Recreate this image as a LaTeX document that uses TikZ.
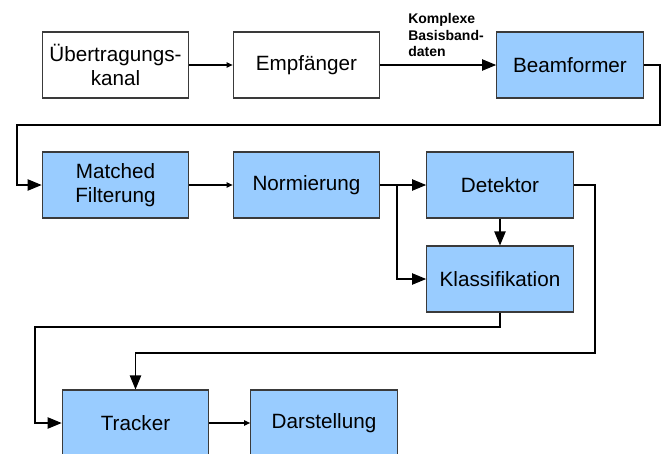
\documentclass[tikz,border=0pt]{standalone}
\usepackage{fontspec}
\setmainfont{Liberation Sans}
\usetikzlibrary{arrows.meta}

\definecolor{boxblue}{HTML}{99CCFF}
\definecolor{boxline}{HTML}{3A3A3A}

\tikzset{
    block/.style={draw=boxline, line width=0.8pt, minimum width=110pt, minimum height=49.5pt,
        inner sep=0pt, align=center, font=\fontsize{15.5}{18}\selectfont},
    blueblock/.style={block, fill=boxblue},
    smallarrow/.style={-{Triangle[length=4.5pt, width=4pt]}, line width=0.8pt},
    bigarrow/.style={-{Triangle[length=10.5pt, width=8.5pt]}, line width=0.8pt}
}

\begin{document}
\begin{tikzpicture}[x=0.75pt, y=-0.75pt]

    % Page frame
    \useasboundingbox (0,0) rectangle (665,454);

    % First row
    \node[block] (uk) at (115.5,65) {Übertragungs-\\kanal};
    \node[block] (emp) at (306.5,65) {Empfänger};
    \node[blueblock] (bf) at (570,65) {Beamformer};

    % Second row
    \node[blueblock] (mf) at (115.5,185) {Matched\\Filterung};
    \node[blueblock] (nm) at (306.5,185) {Normierung};
    \node[blueblock] (det) at (500,185) {Detektor};
    \node[blueblock] (kl) at (500,279) {Klassifikation};

    % Third row (cut off by the page)
    \node[blueblock] (tr) at (135.5,423) {Tracker};
    \node[blueblock] (ds) at (324,423) {Darstellung};

    % Label above the Beamformer input
    \node[anchor=north west, align=left, inner sep=0pt, font=\bfseries\fontsize{10.5}{12.5}\selectfont]
        (lbl) at (408,13) {Komplexe\\Basisband-\\daten};

    % Bends
    \coordinate (split) at (397,185);

    % Connectors
    \draw[smallarrow] (uk) -- (emp);
    \draw[bigarrow] (emp) -- (bf);
    \draw[bigarrow] (bf.east) -| (660,125) -- (17,125) |- (mf.west);
    \draw[smallarrow] (mf) -- (nm);
    \draw[bigarrow] (nm) -- (det);
    \draw[bigarrow] (split) |- (kl.west);
    \draw[bigarrow] (det) -- (kl);
    \draw[bigarrow] (det.east) -| (595,353) -| (tr.north);
    \draw[bigarrow] (kl.south) |- (35,327) |- (tr.west);
    \draw[smallarrow] (tr) -- (ds);
\end{tikzpicture}
\end{document}
